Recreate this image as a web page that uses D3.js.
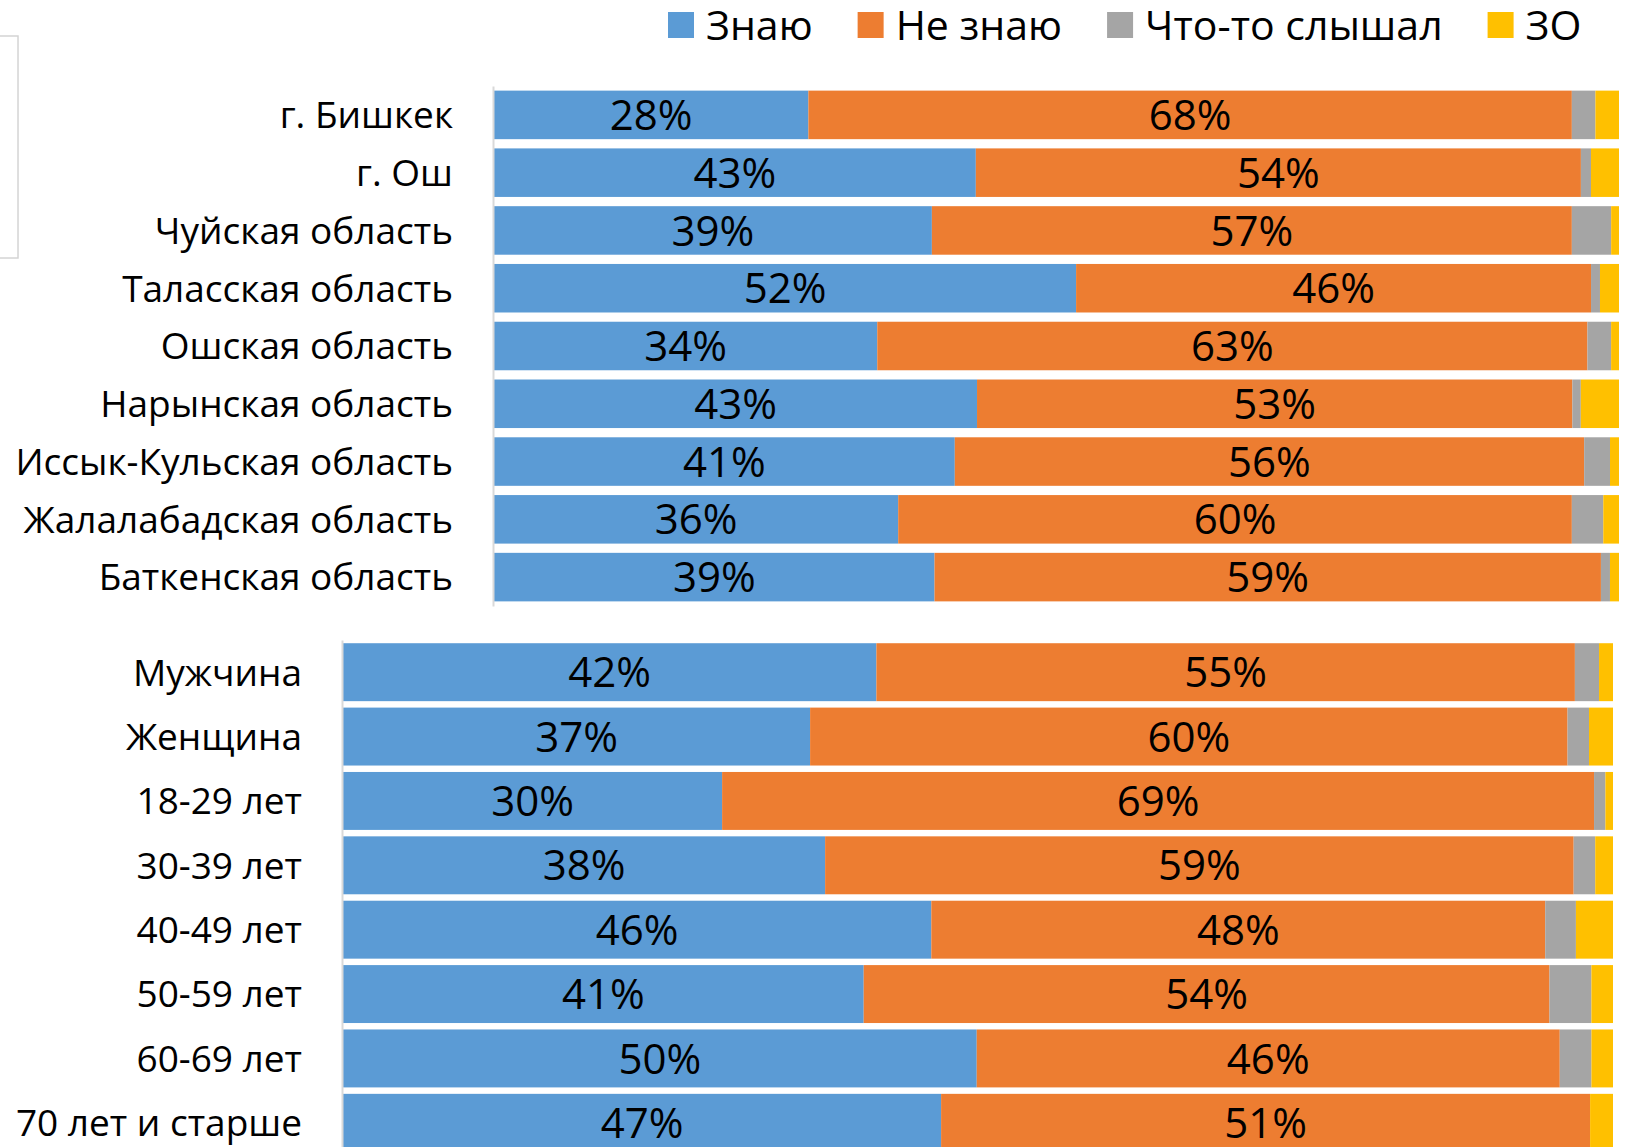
<!DOCTYPE html>
<html>
<head>
<meta charset="utf-8">
<script src="https://cdn.jsdelivr.net/npm/d3@7"></script>
<style>
  body { margin: 0; background: #fff; }
  text { font-family: "Open Sans", "Noto Sans", sans-serif; fill: #000; }
</style>
</head>
<body>
<script>
const keys = ["Знаю", "Не знаю", "Что-то слышал", "ЗО"]
const colors = ["#5B9BD5", "#ED7D31", "#A5A5A5", "#FFC000"]

// regions
const regions = ["г. Бишкек", "г. Ош", "Чуйская область", "Таласская область", "Ошская область",
  "Нарынская область", "Иссык-Кульская область", "Жалалабадская область", "Баткенская область"]
const regKnow  = [28, 43, 39, 52, 34, 43, 41, 36, 39]
const regDont  = [68, 54, 57, 46, 63, 53, 56, 60, 59]
const regHeard = [2.1, 0.9, 3.5, 0.8, 2.1, 0.75, 2.3, 2.8, 0.8]
const regNA    = [2.1, 2.5, 0.7, 1.7, 0.7, 3.4, 0.8, 1.4, 0.8]

// sex and age
const groups = ["Мужчина", "Женщина", "18-29 лет", "30-39 лет", "40-49 лет",
  "50-59 лет", "60-69 лет", "70 лет и старше"]
const grpKnow  = [42, 37, 30, 38, 46, 41, 50, 47]
const grpDont  = [55, 60, 69, 59, 48, 54, 46, 51]
const grpHeard = [1.9, 1.7, 0.9, 1.7, 2.4, 3.3, 2.5, 0]
const grpNA    = [1.1, 1.9, 0.6, 1.4, 2.9, 1.7, 1.7, 1.8]

const width = 1629, height = 1147

const svg = d3.select("body")
    .append("svg")
    .attr("width", width)
    .attr("height", height)
    .attr("viewBox", `0 0 ${width} ${height}`)

// partial frame at the top-left corner
svg.append("rect")
    .attr("x", -4).attr("y", 36)
    .attr("width", 22).attr("height", 222)
    .attr("fill", "none")
    .attr("stroke", "#d4d4d4")
    .attr("stroke-width", 1.5)

const color = d3.scaleOrdinal(keys, colors)

function panel(cats, series, x0, x1, y0, y1, padInner) {
    const rows = cats.map((c, i) => {
        const r = {cat: c}
        keys.forEach((k, j) => r[k] = series[j][i])
        return r
    })
    const stacked = d3.stack().keys(keys).offset(d3.stackOffsetExpand)(rows)

    const x = d3.scaleLinear().domain([0, 1]).range([x0, x1])
    const y = d3.scaleBand().domain(cats).range([y0, y1])
        .paddingInner(padInner).paddingOuter(padInner / 2)

    const g = svg.append("g")

    g.selectAll(".layer")
        .data(stacked)
        .join("g")
        .attr("fill", d => color(d.key))
        .selectAll("rect")
        .data(d => d)
        .join("rect")
        .attr("x", d => x(d[0]))
        .attr("y", d => y(d.data.cat))
        .attr("width", d => x(d[1]) - x(d[0]))
        .attr("height", y.bandwidth())

    // percent labels for the first two series
    g.selectAll(".lbl")
        .data(stacked.slice(0, 2).flatMap(s => s.map(d => ({key: s.key, d}))))
        .join("text")
        .attr("x", o => (x(o.d[0]) + x(o.d[1])) / 2)
        .attr("y", o => y(o.d.data.cat) + y.bandwidth() / 2)
        .attr("dy", "0.36em")
        .attr("text-anchor", "middle")
        .style("font-size", "42px")
        .text(o => o.d.data[o.key] + "%")

    const axis = g.append("g")
        .attr("transform", `translate(${x0 - 1},0)`)
        .call(d3.axisLeft(y).tickSize(0).tickSizeOuter(0).tickPadding(40))
    axis.select(".domain").attr("stroke", "#d9d9d9").attr("stroke-width", 2)
    axis.selectAll(".tick text")
        .style("font-size", "37px")
        .attr("fill", "#000")
        .attr("dy", "0.36em")
}

panel(regions, [regKnow, regDont, regHeard, regNA], 494, 1619, 86, 606, 0.16)
panel(groups, [grpKnow, grpDont, grpHeard, grpNA], 343, 1613, 640, 1155, 0.1)

// legend
const legend = svg.append("g")
let lx = 668
keys.forEach((k, i) => {
    legend.append("rect")
        .attr("x", lx).attr("y", 12)
        .attr("width", 26).attr("height", 26)
        .attr("fill", colors[i])
    const t = legend.append("text")
        .attr("x", lx + 38).attr("y", 25)
        .attr("dy", "0.36em")
        .style("font-size", "41px")
        .text(k)
    lx += 38 + t.node().getComputedTextLength() + 45
})
</script>
</body>
</html>
